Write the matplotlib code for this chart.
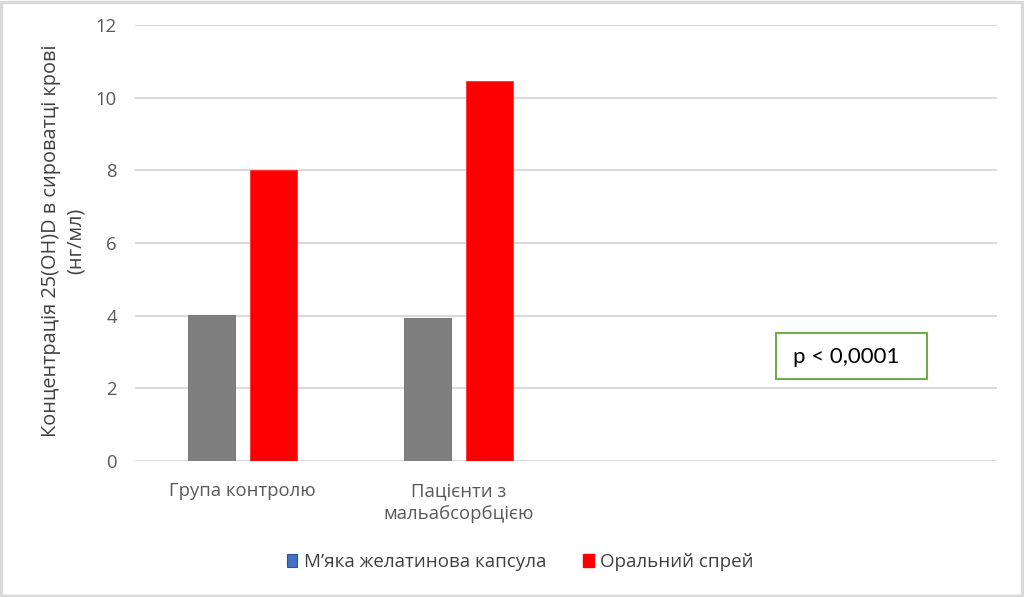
import matplotlib.pyplot as plt
from matplotlib.patches import Rectangle
import numpy as np

plt.rcParams['font.family'] = ['Open Sans', 'DejaVu Sans']

categories = ['Група контролю', 'Пацієнти з\nмальабсорбцією', '', '']
capsule = [4.03, 3.95, np.nan, np.nan]
spray = [8.0, 10.45, np.nan, np.nan]
series_names = ['М’яка желатинова капсула', 'Оральний спрей']
yticks = [0, 2, 4, 6, 8, 10, 12]

fig = plt.figure(figsize=(10.24, 5.97), dpi=100)
ax = fig.add_axes([0.1318, 0.2278, 0.8418, 0.7302])

x = np.arange(len(categories))
w = 0.218
off = 0.144
ax.bar(x - off, capsule, w, color='#7f7f7f', edgecolor='#6f6f6f', linewidth=0.6, zorder=3)
ax.bar(x + off, spray, w, color='#ff0000', edgecolor='#ff3030', linewidth=0.6, zorder=3)

ax.set_xlim(-0.5, len(categories) - 0.5)
ax.set_ylim(0, 12)
ax.set_yticks(yticks)
ax.set_yticklabels([str(t) for t in yticks])
ax.set_xticks(x)
ax.set_xticklabels(categories, linespacing=1.4)
ax.tick_params(axis='both', length=0, labelsize=13.3, labelcolor='#595959')
ax.tick_params(axis='y', pad=13)
ax.tick_params(axis='x', pad=15)
ax.grid(axis='y', color='#d9d9d9', linewidth=1.4, zorder=0)
for s in ax.spines.values():
    s.set_visible(False)

ax.set_ylabel('Концентрація 25(OH)D в сироватці крові\n(нг/мл)', fontsize=14.3,
              color='#404040', linespacing=1.3)
ax.yaxis.label.set_va('center')
ax.yaxis.set_label_coords(-0.083, 0.505)

# p-value box
fig.patches.append(Rectangle((776 / 1024, 1 - 379 / 597), 151 / 1024, 46 / 597,
                             transform=fig.transFigure, facecolor='white',
                             edgecolor='#70ad47', linewidth=1.5, zorder=5))
fig.text(846 / 1024, 1 - 357 / 597, 'p < 0,0001', ha='center', va='center',
         fontsize=16, family=['Lato', 'DejaVu Sans'], color='#000000', zorder=6)

# legend
handles = [Rectangle((0, 0), 1, 1, facecolor='#4472c4', edgecolor='#2f5597', linewidth=0.8),
           Rectangle((0, 0), 1, 1, facecolor='#ff0000', edgecolor='#ff0000')]
fig.legend(handles, series_names, loc='center', bbox_to_anchor=(0.508, 0.0586),
           ncol=2, frameon=False, fontsize=13.5, handlelength=0.55, handleheight=0.7,
           handletextpad=0.35, columnspacing=2.0, labelcolor='#404040')

# outer border
fig.patches.append(Rectangle((0.001, 0.002), 0.997, 0.995, transform=fig.transFigure,
                             fill=False, edgecolor='#d9d9d9', linewidth=2.5))

fig.savefig('out.png', dpi=100)
